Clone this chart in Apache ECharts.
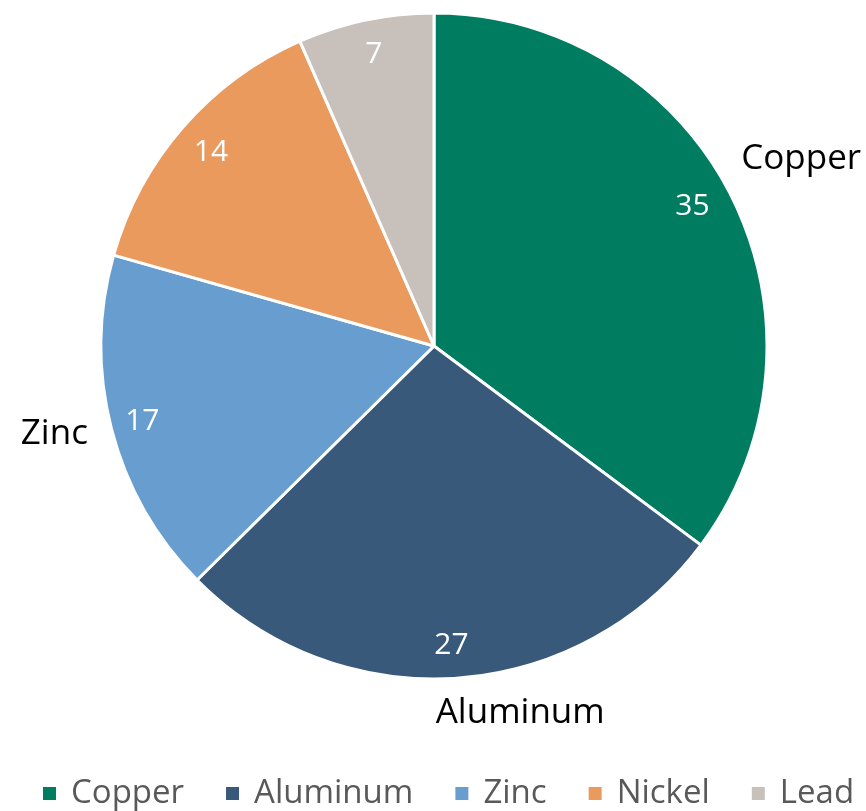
<!DOCTYPE html>
<html>
<head>
<meta charset="utf-8">
<script src="https://cdn.jsdelivr.net/npm/echarts@6/dist/echarts.min.js"></script>
<style>
html,body{margin:0;padding:0;background:#fff;}
#chart{width:866px;height:811px;}
</style>
</head>
<body>
<div id="chart"></div>
<script>
const categories = ['Copper', 'Aluminum', 'Zinc', 'Nickel', 'Lead'];
// slice sizes; labels show them rounded
const values = [35.2, 27.4, 16.8, 14.0, 6.6];
const colors = ['#007C61', '#385979', '#689ECF', '#EB9A5E', '#C8C0BB'];
const showOuterName = [true, true, true, false, false];

const FONT = '"Open Sans", "Noto Sans", sans-serif';
const CX = 434, CY = 346, R = 333;

// label fine-tuning offsets (style only)
const nameShift = [[15, -10], [59, -26], [2, -10], [0, 0], [0, 0]];
const valueShift = [[-7, -6], [-3, 3], [-4, 2], [1, 1], [1, -1]];

const mainData = categories.map((c, i) => ({ name: c, value: values[i], itemStyle: { color: colors[i] } }));
const valueData = categories.map((c, i) => ({ name: c, value: values[i] }));
const nameData = categories.map((c, i) => ({
  name: c, value: values[i],
  label: { show: showOuterName[i] }
}));

const chart = echarts.init(document.getElementById('chart'), null, { renderer: 'canvas' });
chart.setOption({
  animation: false,
  backgroundColor: '#ffffff',
  legend: {
    data: categories,
    left: 36,
    top: 772,
    icon: 'rect',
    itemWidth: 15,
    itemHeight: 15,
    itemGap: 40,
    selectedMode: false,
    textStyle: { fontFamily: FONT, fontSize: 33, color: '#595959', padding: [0, 0, 0, 9] }
  },
  series: [
    {
      type: 'pie',
      center: [CX, CY],
      radius: R,
      startAngle: 90,
      clockwise: true,
      data: mainData,
      label: { show: false },
      labelLine: { show: false },
      itemStyle: { borderColor: '#ffffff', borderWidth: 3 },
      emphasis: { disabled: true }
    },
    {
      type: 'pie',
      center: [CX, CY],
      radius: [R - 78, R],
      startAngle: 90,
      clockwise: true,
      silent: true,
      data: valueData,
      itemStyle: { color: 'rgba(0,0,0,0)' },
      label: {
        show: true, position: 'inside',
        formatter: p => String(Math.round(p.value)),
        fontFamily: FONT, fontSize: 30, color: '#ffffff'
      },
      labelLayout: p => ({ dx: valueShift[p.dataIndex][0], dy: valueShift[p.dataIndex][1] }),
      labelLine: { show: false },
      emphasis: { disabled: true }
    },
    {
      type: 'pie',
      center: [CX, CY],
      radius: [R, R + 116],
      startAngle: 90,
      clockwise: true,
      silent: true,
      data: nameData,
      itemStyle: { color: 'rgba(0,0,0,0)' },
      label: {
        show: true, position: 'inside', formatter: '{b}',
        fontFamily: FONT, fontSize: 35, color: '#000000'
      },
      labelLayout: p => ({ dx: nameShift[p.dataIndex][0], dy: nameShift[p.dataIndex][1] }),
      labelLine: { show: false },
      emphasis: { disabled: true }
    }
  ]
});
</script>
</body>
</html>
